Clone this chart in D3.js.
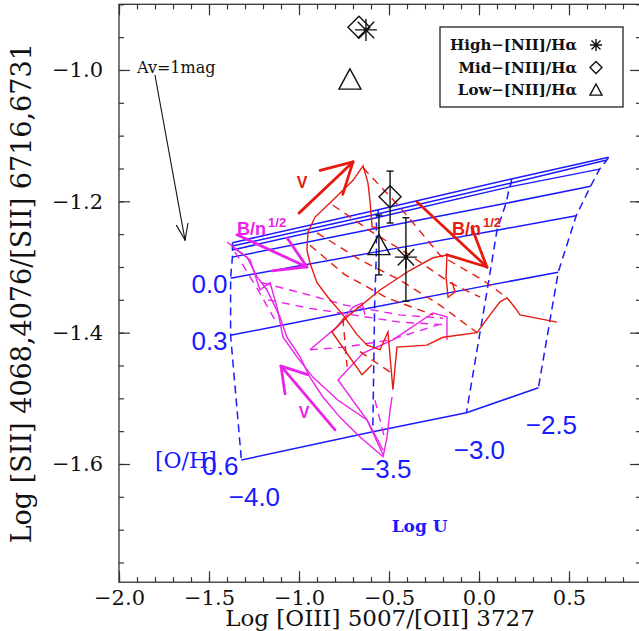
<!DOCTYPE html>
<html>
<head>
<meta charset="utf-8">
<script src="https://cdn.jsdelivr.net/npm/d3@7"></script>
<style>
  body { margin: 0; background: #fff; }
  svg { display: block; }
</style>
</head>
<body>
<div id="chart"></div>
<script>
// axes
const xTicks = [-2.0, -1.5, -1.0, -0.5, 0.0, 0.5];
const yTicks = [-1.6, -1.4, -1.2, -1.0];
const xMinor = d3.range(-20, 10).map(d => d / 10);
const yMinor = d3.range(-35, -17).map(d => d / 20);

// photoionization grid: rows = [O/H], columns = log U
const logU = [-4.0, -3.5, -3.0, -2.5];
const ohLabels = ["", "", "", "", "0.0", "0.3", "0.6"];
const gridX = [
  [-1.37, -0.56, 0.18, 0.72],
  [-1.37, -0.56, 0.18, 0.71],
  [-1.37, -0.57, 0.17, 0.67],
  [-1.37, -0.57, 0.15, 0.62],
  [-1.38, -0.57, 0.10, 0.54],
  [-1.38, -0.58, 0.05, 0.44],
  [-1.32, -0.59, -0.07, 0.33]
];
const gridY = [
  [-1.263, -1.213, -1.166, -1.133],
  [-1.268, -1.219, -1.172, -1.137],
  [-1.274, -1.225, -1.178, -1.151],
  [-1.285, -1.241, -1.203, -1.177],
  [-1.317, -1.277, -1.244, -1.222],
  [-1.404, -1.361, -1.328, -1.308],
  [-1.594, -1.551, -1.522, -1.484]
];

// shock model tracks (red and magenta)
const redSolid = [
  [[-0.550,-1.241],[-0.594,-1.239],[-0.606,-1.198],[-0.617,-1.172],[-0.644,-1.146],[-0.700,-1.168],
   [-0.811,-1.198],[-0.911,-1.224],[-0.950,-1.247],[-0.956,-1.274],[-0.939,-1.294],[-0.900,-1.324],
   [-0.839,-1.346],[-0.756,-1.373],[-0.678,-1.403],[-0.622,-1.419],[-0.550,-1.426],[-0.506,-1.399],
   [-0.478,-1.487],[-0.456,-1.422],[-0.289,-1.419],[-0.200,-1.407],[-0.011,-1.400],[0.061,-1.373],
   [0.117,-1.353],[0.156,-1.347],[0.200,-1.362],[0.228,-1.373],[0.433,-1.384]],
  [[-0.594,-1.449],[-0.650,-1.464],[-0.817,-1.399],[-0.733,-1.376],[-0.550,-1.335],[-0.383,-1.305],
   [-0.256,-1.286],[-0.178,-1.282],[-0.183,-1.315],[-0.172,-1.346],[-0.133,-1.338],[-0.150,-1.323]]
];
const redDashed = [
  [[-0.644,-1.149],[-0.439,-1.209],[-0.217,-1.282],[0.022,-1.320],[0.156,-1.347]],
  [[-0.811,-1.206],[-0.594,-1.247],[-0.383,-1.282],[-0.161,-1.324],[0.006,-1.346]],
  [[-0.900,-1.248],[-0.661,-1.289],[-0.439,-1.320],[-0.217,-1.358],[-0.011,-1.400]],
  [[-0.939,-1.267],[-0.744,-1.312],[-0.511,-1.347],[-0.256,-1.373]],
  [[-0.756,-1.378],[-0.733,-1.452]],
  [[-0.661,-1.429],[-0.494,-1.460]]
];
const magSolid = [
  [[-1.400,-1.262],[-1.289,-1.285],[-1.233,-1.315],[-1.178,-1.335],[-1.106,-1.376],[-1.067,-1.407],
   [-0.994,-1.437],[-0.939,-1.468],[-0.867,-1.498],[-0.772,-1.529],[-0.661,-1.559],[-0.533,-1.589],
   [-0.511,-1.559],[-0.494,-1.518],[-0.483,-1.498]],
  [[-1.367,-1.270],[-1.272,-1.289],[-1.217,-1.335],[-1.161,-1.324],[-1.122,-1.361],[-1.089,-1.407],
   [-1.011,-1.437],[-0.922,-1.468],[-0.783,-1.503],[-0.622,-1.533],[-0.533,-1.579]],
  [[-0.533,-1.586],[-0.622,-1.533],[-0.783,-1.472],[-0.644,-1.431],[-0.478,-1.411],[-0.256,-1.370],
   [-0.178,-1.376],[-0.178,-1.411]],
  [[-0.939,-1.426],[-0.789,-1.391],[-0.700,-1.361],[-0.650,-1.355],[-0.633,-1.373]]
];
const magDashed = [
  [[-1.206,-1.324],[-0.994,-1.339],[-0.744,-1.358],[-0.439,-1.373],[-0.200,-1.378]],
  [[-1.172,-1.350],[-0.939,-1.363],[-0.700,-1.373],[-0.439,-1.384],[-0.189,-1.388]],
  [[-0.939,-1.426],[-0.744,-1.422],[-0.494,-1.411],[-0.189,-1.385]],
  [[-1.356,-1.277],[-1.228,-1.335],[-1.133,-1.381]],
  [[-0.578,-1.503],[-0.522,-1.563]]
];

// direction arrows [tail, head]
const avArrow = [[-1.800, -1.008], [-1.633, -1.259]];
const redVArrow = [[-1.000, -1.218], [-0.700, -1.140]];
const redBArrow = [[-0.344, -1.201], [0.044, -1.300]];
const magBArrow = [[-1.344, -1.251], [-0.956, -1.300]];
const magVArrow = [[-0.800, -1.548], [-1.100, -1.451]];

// observations
const obsNames = ["High\u2212[NII]/H\u03b1", "Mid\u2212[NII]/H\u03b1", "Low\u2212[NII]/H\u03b1"];
const obsSymbols = ["star", "diamond", "triangle"];
const obsTopX = [-0.628, -0.667, -0.717];
const obsTopY = [-0.939, -0.935, -1.015];
const obsX = [-0.406, -0.494, -0.556];
const obsY = [-1.285, -1.193, -1.267];
const obsLo = [-1.352, -1.233, -1.312];
const obsHi = [-1.225, -1.154, -1.221];

const W = 639, H = 631;
const blue = "#1a1aff", red = "#e61a10", magenta = "#ea22ea", axisColor = "#333";
const serif = "'DejaVu Serif', serif", sans = "'Liberation Sans', Arial, sans-serif";

const svg = d3.select("#chart").append("svg")
  .attr("width", W).attr("height", H)
  .style("font-family", serif);

const x = d3.scaleLinear().domain([-2.0, 0.9]).range([119, 641]);
const y = d3.scaleLinear().domain([-1.78, -0.9]).range([582.2, 4.3]);
const fmt = d3.format(".1f");
const line = d3.line().x(d => x(d[0])).y(d => y(d[1]));

function styleAxis(g) {
  g.select(".domain").remove();
  g.selectAll(".tick line").attr("stroke", axisColor).attr("stroke-width", 1.2);
  g.selectAll("text").attr("fill", "#111").style("font-size", "21px").style("font-family", serif);
}

const [y0, y1] = y.range();
const [x0, x1] = x.range();

// minor ticks
svg.append("g").attr("transform", `translate(0,${y0})`)
  .call(d3.axisBottom(x).tickValues(xMinor).tickSize(-5).tickFormat("")).call(styleAxis);
svg.append("g").attr("transform", `translate(0,${y1})`)
  .call(d3.axisTop(x).tickValues(xMinor).tickSize(-5).tickFormat("")).call(styleAxis);
svg.append("g").attr("transform", `translate(${x0},0)`)
  .call(d3.axisLeft(y).tickValues(yMinor).tickSize(-5).tickFormat("")).call(styleAxis);
svg.append("g").attr("transform", `translate(${x1},0)`)
  .call(d3.axisRight(y).tickValues(yMinor).tickSize(-5).tickFormat("")).call(styleAxis);

// major ticks
svg.append("g").attr("transform", `translate(0,${y0})`)
  .call(d3.axisBottom(x).tickValues(xTicks).tickSize(-11).tickPadding(8).tickFormat(fmt)).call(styleAxis);
svg.append("g").attr("transform", `translate(0,${y1})`)
  .call(d3.axisTop(x).tickValues(xTicks).tickSize(-11).tickFormat("")).call(styleAxis);
svg.append("g").attr("transform", `translate(${x0},0)`)
  .call(d3.axisLeft(y).tickValues(yTicks).tickSize(-11).tickPadding(16).tickFormat(fmt)).call(styleAxis);
svg.append("g").attr("transform", `translate(${x1},0)`)
  .call(d3.axisRight(y).tickValues(yTicks).tickSize(-11).tickFormat("")).call(styleAxis);

svg.append("rect")
  .attr("x", x0).attr("y", y1).attr("width", x1 - x0).attr("height", y0 - y1)
  .attr("fill", "none").attr("stroke", axisColor).attr("stroke-width", 1.3);

// axis titles
svg.append("text")
  .attr("x", (x0 + x1) / 2).attr("y", 626)
  .attr("text-anchor", "middle").style("font-size", "23px").attr("fill", "#111")
  .text("Log [OIII] 5007/[OII] 3727");
svg.append("text")
  .attr("transform", `translate(31,${(y0 + y1) / 2}) rotate(-90)`)
  .attr("text-anchor", "middle").style("font-size", "27px").attr("fill", "#111")
  .text("Log [SII] 4068,4076/[SII] 6716,6731");

const plot = svg.append("g");

// grid: solid = constant [O/H], dashed = constant log U
gridX.forEach((row, i) => {
  plot.append("path")
    .attr("d", line(row.map((vx, j) => [vx, gridY[i][j]])))
    .attr("fill", "none").attr("stroke", blue).attr("stroke-width", 1.5);
});
logU.forEach((u, j) => {
  plot.append("path")
    .attr("d", line(gridX.map((row, i) => [row[j], gridY[i][j]])))
    .attr("fill", "none").attr("stroke", blue).attr("stroke-width", 1.5)
    .attr("stroke-dasharray", "8,5");
});

// shock tracks
function tracks(list, color, dashed) {
  list.forEach(pts => {
    plot.append("path").attr("d", line(pts))
      .attr("fill", "none").attr("stroke", color).attr("stroke-width", 1.4)
      .attr("stroke-dasharray", dashed ? "8,6" : null);
  });
}
tracks(magDashed, magenta, true);
tracks(magSolid, magenta, false);
tracks(redDashed, red, true);
tracks(redSolid, red, false);

// arrows
function arrow(a, color, width, len, spread) {
  const tx = x(a[0][0]), ty = y(a[0][1]), hx = x(a[1][0]), hy = y(a[1][1]);
  const ang = Math.atan2(ty - hy, tx - hx);
  const g = plot.append("g").attr("stroke", color).attr("stroke-width", width)
    .attr("fill", "none").attr("stroke-linecap", "round");
  g.append("line").attr("x1", tx).attr("y1", ty).attr("x2", hx).attr("y2", hy);
  [-spread, spread].forEach(s => {
    g.append("line").attr("x1", hx).attr("y1", hy)
      .attr("x2", hx + len * Math.cos(ang + s)).attr("y2", hy + len * Math.sin(ang + s));
  });
}
const deg = Math.PI / 180;
arrow(avArrow, "#111", 1.1, 17, 20 * deg);
arrow(redVArrow, red, 2.8, 34, 29 * deg);
arrow(redBArrow, red, 2.8, 42, 26 * deg);
arrow(magBArrow, magenta, 2.8, 35, 31 * deg);
arrow(magVArrow, magenta, 2.8, 28, 32 * deg);

// arrow labels
plot.append("text").attr("x", x(-1.9)).attr("y", y(-1.005))
  .style("font-size", "16px").attr("fill", "#111").text("Av=1mag");
function bLabel(px, py, color) {
  const t = plot.append("text").attr("x", x(px)).attr("y", y(py))
    .style("font-family", sans).style("font-weight", "bold").style("font-size", "18px")
    .attr("fill", color);
  t.append("tspan").text("B/n");
  t.append("tspan").attr("dx", 2).attr("dy", -8).style("font-size", "13px").text("1/2");
}
bLabel(-0.150, -1.251, red);
bLabel(-1.344, -1.251, magenta);
function vLabel(px, py, color) {
  plot.append("text").attr("x", x(px)).attr("y", y(py)).attr("dy", "0.35em")
    .attr("text-anchor", "middle")
    .style("font-family", sans).style("font-weight", "bold").style("font-size", "16px")
    .attr("fill", color).text("V");
}
vLabel(-0.983, -1.171, red);
vLabel(-0.972, -1.521, magenta);

// grid labels
gridX.forEach((row, i) => {
  if (!ohLabels[i]) return;
  plot.append("text")
    .attr("x", x(row[0]) - 3).attr("y", y(gridY[i][0]) + 6).attr("dy", "0.35em")
    .attr("text-anchor", "end").style("font-family", sans).style("font-size", "26px")
    .attr("fill", blue).text(ohLabels[i]);
});
logU.forEach((u, j) => {
  const last = gridX.length - 1;
  plot.append("text")
    .attr("x", x(gridX[last][j]) + 13).attr("y", y(gridY[last][j]) + 37).attr("dy", "0.35em")
    .attr("text-anchor", "middle").style("font-family", sans).style("font-size", "26px")
    .attr("fill", blue).text(fmt(u));
});
plot.append("text").attr("x", x(-1.8)).attr("y", y(-1.594)).attr("dy", "0.35em")
  .style("font-size", "22px").attr("fill", blue).text("[O/H]");
plot.append("text").attr("x", x(-0.33)).attr("y", y(-1.694)).attr("dy", "0.35em")
  .attr("text-anchor", "middle").style("font-size", "17px").style("font-weight", "bold")
  .attr("fill", blue).text("Log U");

// symbols
function symbol(g, type, cx, cy, r, sw) {
  const s = g.append("g").attr("stroke", "#111").attr("stroke-width", sw).attr("fill", "none");
  if (type === "star") {
    const d = r * 0.75;
    s.append("path").attr("d",
      `M${cx - r},${cy}H${cx + r}M${cx},${cy - r}V${cy + r}` +
      `M${cx - d},${cy - d}L${cx + d},${cy + d}M${cx - d},${cy + d}L${cx + d},${cy - d}`);
  } else if (type === "diamond") {
    s.append("path").attr("d", `M${cx},${cy - r}L${cx + r},${cy}L${cx},${cy + r}L${cx - r},${cy}Z`);
  } else {
    s.append("path").attr("d", `M${cx},${cy - r}L${cx + r},${cy + 0.85 * r}L${cx - r},${cy + 0.85 * r}Z`);
  }
}

obsSymbols.forEach((t, i) => {
  symbol(plot, t, x(obsTopX[i]), y(obsTopY[i]), 11, 1.4);
  const cx = x(obsX[i]);
  const eb = plot.append("g").attr("stroke", "#111").attr("stroke-width", 1.4);
  eb.append("line").attr("x1", cx).attr("x2", cx).attr("y1", y(obsLo[i])).attr("y2", y(obsHi[i]));
  [obsLo[i], obsHi[i]].forEach(v => {
    eb.append("line").attr("x1", cx - 3.5).attr("x2", cx + 3.5).attr("y1", y(v)).attr("y2", y(v));
  });
  symbol(plot, t, cx, y(obsY[i]), 11, 1.4);
  if (t === "star") {
    plot.append("circle").attr("cx", x(obsTopX[i])).attr("cy", y(obsTopY[i])).attr("r", 2).attr("fill", "#111");
    plot.append("circle").attr("cx", cx).attr("cy", y(obsY[i])).attr("r", 2.2).attr("fill", "#111");
  }
});

// legend
const leg = svg.append("g");
leg.append("rect").attr("x", 440).attr("y", 27).attr("width", 183).attr("height", 80)
  .attr("fill", "#fff").attr("stroke", "#222").attr("stroke-width", 1.3);
obsNames.forEach((n, i) => {
  const cy = 45 + i * 22.5;
  leg.append("text").attr("x", 577).attr("y", cy).attr("dy", "0.35em")
    .attr("text-anchor", "end").style("font-size", "15px").style("font-weight", "bold")
    .attr("fill", "#111").text(n);
  symbol(leg, obsSymbols[i], 596, cy, 6, 1.4);
});
</script>
</body>
</html>
